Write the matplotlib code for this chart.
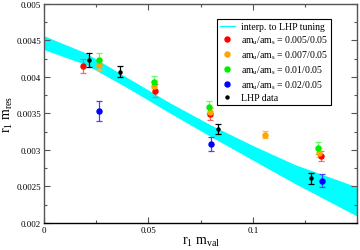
import matplotlib
matplotlib.use("Agg")
import matplotlib.pyplot as plt
import numpy as np
from matplotlib.ticker import MultipleLocator, FixedLocator, FuncFormatter
from matplotlib.lines import Line2D

plt.rcParams['font.family'] = ['Liberation Serif', 'DejaVu Serif']
plt.rcParams['mathtext.fontset'] = 'custom'
plt.rcParams['mathtext.rm'] = 'Liberation Serif'
plt.rcParams['mathtext.it'] = 'Liberation Serif'

# interpolation band (LHP tuning)
band_x = [0.0, 0.02, 0.04, 0.06, 0.08, 0.10, 0.12, 0.15]
band_center = [0.00447, 0.00425, 0.00392, 0.00358, 0.00326, 0.00296, 0.00267, 0.00229]
band_half = [0.000095, 0.00008, 0.00007, 0.00007, 0.00008, 0.0001, 0.00013, 0.0002]

# am_u/am_s = 0.005/0.05
red_x = [0.0185, 0.0530, 0.0794, 0.1325]
red_y = [0.00415, 0.00381, 0.00349, 0.00292]
red_e = [0.0001, 0.00009, 0.00008, 0.00007]
# 0.007/0.05
orange_x = [0.0263, 0.0526, 0.0794, 0.1057, 0.1317]
orange_y = [0.00417, 0.00387, 0.00352, 0.00321, 0.00296]
orange_e = [0.00008, 0.00007, 0.00006, 0.00005, 0.00006]
# 0.01/0.05
green_x = [0.0263, 0.0525, 0.0791, 0.1312]
green_y = [0.00423, 0.00393, 0.00359, 0.00303]
green_e = [0.0001, 0.00008, 0.00008, 0.00008]
# 0.02/0.05
blue_x = [0.0263, 0.0799, 0.1332]
blue_y = [0.00353, 0.00308, 0.00258]
blue_e = [0.000135, 0.0001, 0.00009]
# LHP data
lhp_x = [0.0215, 0.0364, 0.0834, 0.1276]
lhp_y = [0.00423, 0.00407, 0.00329, 0.00261]
lhp_e = [0.0001, 0.000075, 0.00007, 0.00008]

x_ticks = [0, 0.05, 0.1]

fig = plt.figure(figsize=(3.6, 2.51), dpi=100)
ax = fig.add_axes([0.122, 0.108, 0.871, 0.872])

bx = np.array(band_x); bc = np.array(band_center); bh = np.array(band_half)
ax.fill_between(bx, bc - bh, bc + bh, color='#00ffff', linewidth=0, zorder=1)

series = [
    (red_x, red_y, red_e, '#ff0000', '#ff6666', 'am$_{\\mathrm{u}}$/am$_{\\mathrm{s}}$ = 0.005/0.05'),
    (orange_x, orange_y, orange_e, '#ffa500', '#ffbb55', 'am$_{\\mathrm{u}}$/am$_{\\mathrm{s}}$ = 0.007/0.05'),
    (green_x, green_y, green_e, '#00ee00', '#66ff66', 'am$_{\\mathrm{u}}$/am$_{\\mathrm{s}}$ = 0.01/0.05'),
    (blue_x, blue_y, blue_e, '#0000ff', '#4444ff', 'am$_{\\mathrm{u}}$/am$_{\\mathrm{s}}$ = 0.02/0.05'),
]
handles = [Line2D([], [], color='#00ffff', lw=1, label='interp. to LHP tuning')]
for xs, ys, es, c, ec, lab in series:
    ax.errorbar(xs, ys, yerr=es, fmt='o', ms=3.6, color=c, mec=c, ecolor=ec,
                elinewidth=0.9, capsize=2.5, capthick=0.9, zorder=3)
    handles.append(Line2D([], [], ls='none', marker='o', ms=3.6, color=c, label=lab))
ax.errorbar(lhp_x, lhp_y, yerr=lhp_e, fmt='o', ms=2.2, color='black', ecolor='black',
            elinewidth=0.9, capsize=2.5, capthick=0.9, zorder=4)
handles.append(Line2D([], [], ls='none', marker='o', ms=2.2, color='black', label='LHP data'))

ax.set_xlim(0, 0.15)
ax.set_ylim(0.002, 0.005)
ax.xaxis.set_major_locator(FixedLocator(x_ticks))
ax.xaxis.set_minor_locator(MultipleLocator(0.025))
ax.yaxis.set_major_locator(MultipleLocator(0.0005))
ax.yaxis.set_minor_locator(MultipleLocator(0.00025))

def fmt(v, pos):
    s = ('%.4f' % v).rstrip('0').rstrip('.')
    return '0' if s in ('0', '-0') else s
ax.xaxis.set_major_formatter(FuncFormatter(fmt))
ax.yaxis.set_major_formatter(FuncFormatter(fmt))

ax.tick_params(which='both', direction='in', top=True, right=True, labelsize=6.5,
               color='#555555', pad=2)
ax.tick_params(which='major', length=4, width=0.8)
ax.tick_params(which='minor', length=2, width=0.8)
for sp in ax.spines.values():
    sp.set_color('#555555')
    sp.set_linewidth(1.0)
ax.spines['bottom'].set_color('black')

ax.set_xlabel('r$_1$ m$_{\\mathrm{val}}$', fontsize=10, labelpad=1)
ax.set_ylabel('r$_1$ m$_{\\mathrm{res}}$', fontsize=10, labelpad=1)

leg = ax.legend(handles=handles, loc='upper right', bbox_to_anchor=(0.915, 0.93),
                fontsize=7, frameon=True, fancybox=False, edgecolor='black',
                framealpha=1, borderpad=0.3, labelspacing=0.25, handlelength=1.6,
                handletextpad=0.6, borderaxespad=0)
leg.get_frame().set_linewidth(0.8)

fig.savefig('out.png', dpi=100)
